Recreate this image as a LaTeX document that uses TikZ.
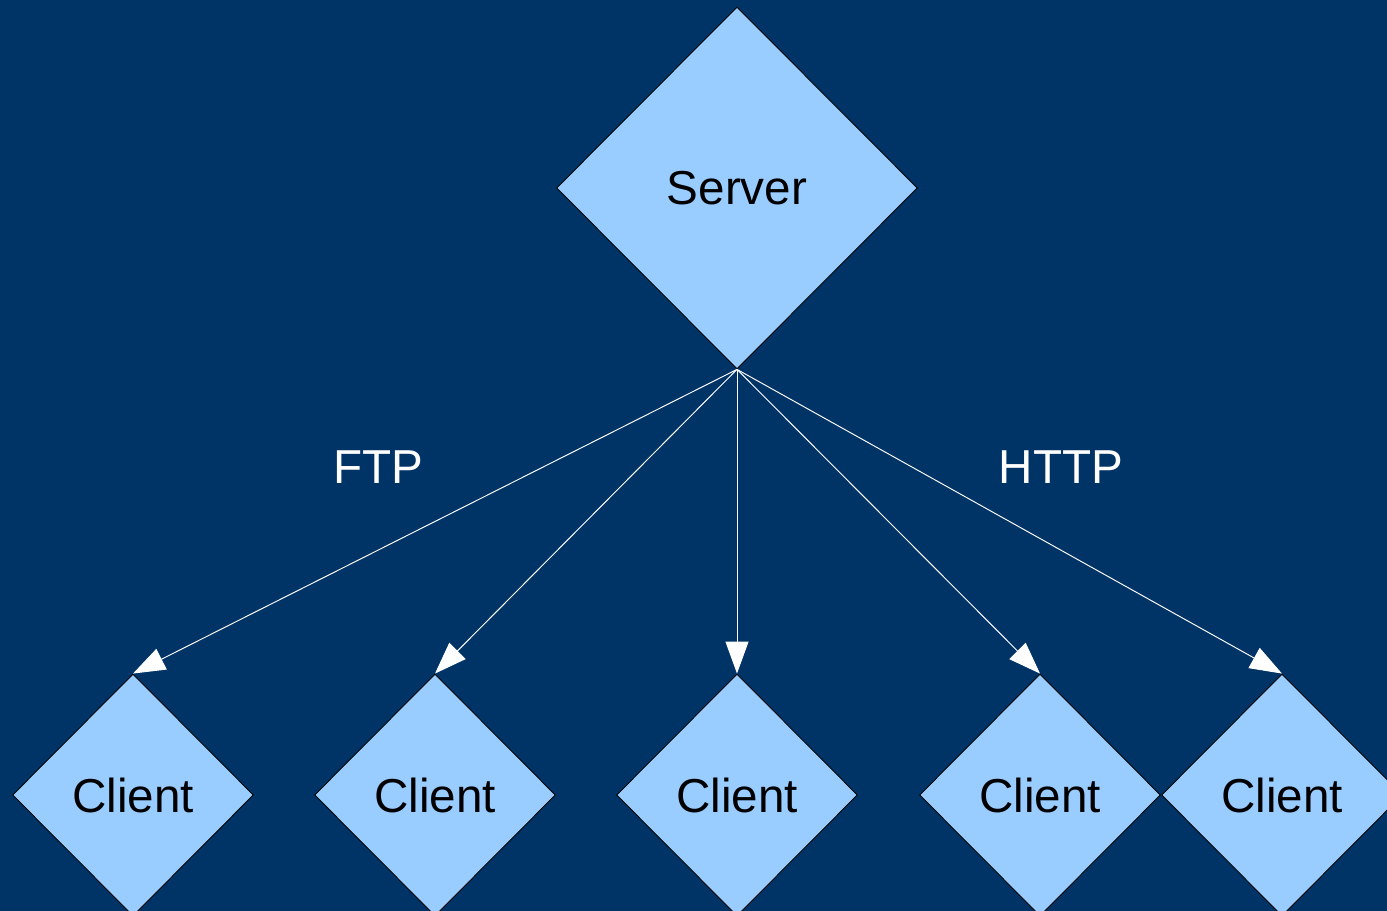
\documentclass[tikz,border=0pt]{standalone}
\usepackage{fontspec}
\setmainfont{Liberation Sans}
\definecolor{darkbg}{RGB}{0,51,102}
\definecolor{paleblue}{RGB}{153,204,255}
\usepackage{tikz}
\usetikzlibrary{arrows.meta,positioning,shapes.geometric}

\begin{document}
\begin{tikzpicture}[
  x=0.02cm, y=0.02cm,
  serverbox/.style={diamond, draw=black, line width=0.5pt, fill=paleblue, inner sep=0pt, minimum width=7.22cm, minimum height=7.24cm, font=\fontsize{27.1}{32}\selectfont},
  clientbox/.style={diamond, draw=black, line width=0.5pt, fill=paleblue, inner sep=0pt, minimum width=4.82cm, minimum height=4.84cm, font=\fontsize{27.1}{32}\selectfont},
  proto/.style={text=white, font=\fontsize{27.1}{32}\selectfont},
  arrow/.style={-{Triangle[length=0.64cm, width=0.46cm, fill=white]}, draw=white, line width=0.55pt}
]
\useasboundingbox (0,0) rectangle (1387,911);
\clip (0,0) rectangle (1387,911);
\fill[darkbg] (0,0) rectangle (1387,911);
\node[serverbox] (server) at (737,723) {Server};
\node[clientbox] (c1) at (133,116) {Client};
\node[clientbox] (c2) at (435,116) {Client};
\node[clientbox] (c3) at (737,116) {Client};
\node[clientbox] (c4) at (1040,116) {Client};
\node[clientbox] (c5) at (1282,116) {Client};
\node[proto] (ftp) at (378,444) {FTP};
\node[proto] (http) at (1061,444) {HTTP};
\draw[arrow] (server.south) -- (c1.north);
\draw[arrow] (server.south) -- (c2.north);
\draw[arrow] (server.south) -- (c3.north);
\draw[arrow] (server.south) -- (c4.north);
\draw[arrow] (server.south) -- (c5.north);
\end{tikzpicture}
\end{document}
